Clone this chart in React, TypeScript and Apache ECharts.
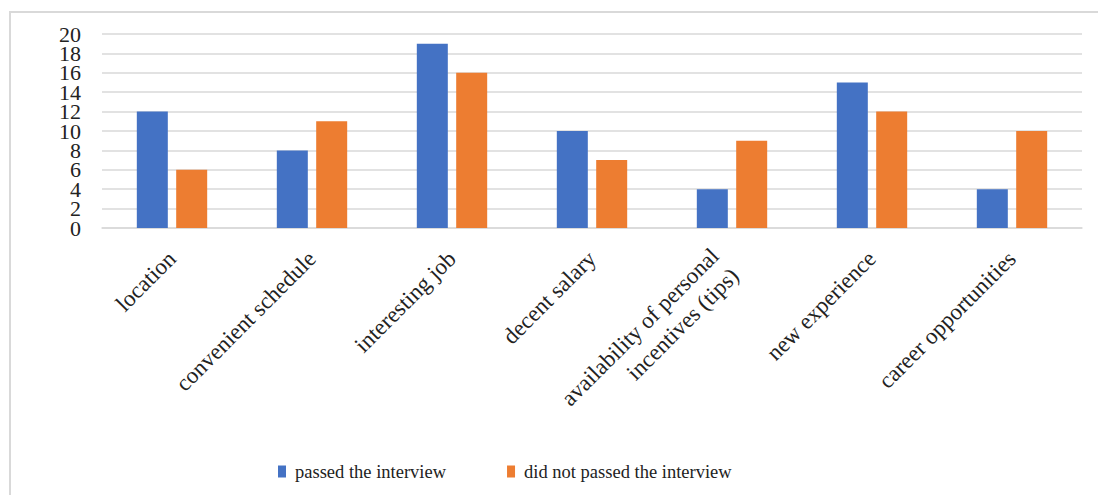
import React, { useEffect, useRef } from "react";
import * as echarts from "echarts";

const categories = [
  "location",
  "convenient schedule",
  "interesting job",
  "decent salary",
  "availability of personal\nincentives (tips)",
  "new experience",
  "career opportunities",
];
const passedValues = [12, 8, 19, 10, 4, 15, 4];
const notPassedValues = [6, 11, 16, 7, 9, 12, 10];
const seriesNames = ["passed the interview", "did not passed the interview"];
const yMin = 0;
const yMax = 20;
const yStep = 2;

const FONT = "'Liberation Serif', 'Times New Roman', serif";

export default function App() {
  const ref = useRef<HTMLDivElement>(null);
  useEffect(() => {
    if (!ref.current) return;
    const chart = echarts.init(ref.current, undefined, { renderer: "svg" });
    const catData = categories.map((c) =>
      c.indexOf("\n") >= 0
        ? { value: c, textStyle: { padding: [20, 10, 0, 0] } }
        : c
    );
    const yLabel = {
      margin: 21,
      fontFamily: FONT,
      fontSize: 22,
      color: "#222",
    };
    chart.setOption({
      animation: false,
      backgroundColor: "#ffffff",
      textStyle: { fontFamily: FONT },
      graphic: [
        {
          type: "rect",
          shape: { x: 10, y: 12, width: 1100, height: 500 },
          style: { fill: "none", stroke: "#d9d9d9", lineWidth: 2 },
          silent: true,
        },
      ],
      grid: { left: 102, right: 16, top: 34, bottom: 267, containLabel: false },
      legend: {
        data: seriesNames,
        left: 273,
        top: 457,
        itemWidth: 8,
        itemHeight: 12,
        itemGap: 61,
        icon: "rect",
        textStyle: { fontFamily: FONT, fontSize: 18.5, color: "#222", padding: [0, 0, 0, 4] },
      },
      xAxis: {
        type: "category",
        data: catData,
        axisTick: { show: false },
        axisLine: { lineStyle: { color: "#d9d9d9", width: 1.5 } },
        axisLabel: {
          rotate: 45,
          interval: 0,
          margin: 27,
          fontFamily: FONT,
          fontSize: 23,
          color: "#222",
          lineHeight: 28,
        },
      },
      yAxis: [
        {
          type: "value",
          min: yMin,
          max: yMax,
          interval: yStep,
          position: "left",
          axisLine: { show: false },
          axisTick: { show: false },
          splitLine: { lineStyle: { color: "#d9d9d9", width: 1.5 } },
          axisLabel: { ...yLabel, showMinLabel: false, showMaxLabel: false },
        },
        {
          type: "value",
          min: yMin,
          max: yMax,
          interval: yMax - yMin,
          position: "left",
          offset: 0,
          axisLine: { show: false },
          axisTick: { show: false },
          splitLine: { show: false },
          axisLabel: { ...yLabel, showMinLabel: true, showMaxLabel: true },
        },
      ],
      series: [
        {
          name: seriesNames[0],
          type: "bar",
          data: passedValues,
          barWidth: 31,
          barGap: "27%",
          itemStyle: { color: "#4472C4" },
        },
        {
          name: seriesNames[1],
          type: "bar",
          data: notPassedValues,
          barWidth: 31,
          barGap: "27%",
          itemStyle: { color: "#ED7D31" },
        },
      ],
    });
    return () => chart.dispose();
  }, []);
  return (
    <div
      ref={ref}
      style={{ position: "absolute", left: 0, top: 0, width: 1098, height: 495 }}
    />
  );
}
